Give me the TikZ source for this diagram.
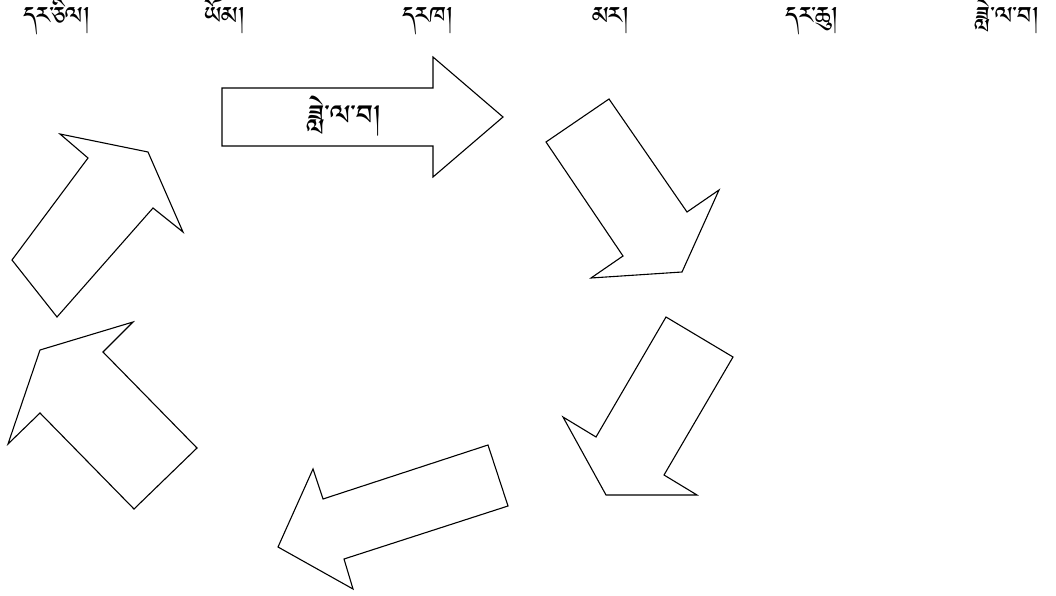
\documentclass[tikz,border=0pt]{standalone}
\usepackage{fontspec}
\IfFontExistsTF{Jomolhari}{\newfontfamily\tib[Script=Tibetan]{Jomolhari}}{%
  \IfFontExistsTF{Tibetan Machine Uni}{\newfontfamily\tib[Script=Tibetan]{Tibetan Machine Uni}}{%
    \newfontfamily\tib{DejaVu Sans}}}
\begin{document}
\begin{tikzpicture}[x=1pt,y=-1pt,
  arr/.style={draw=black,fill=white,line width=1.1pt,line join=miter},
  lbl/.style={font=\tib\fontsize{31}{36}\selectfont,inner sep=0pt,anchor=base},
  inlbl/.style={font=\tib\fontsize{36}{42}\selectfont,inner sep=0pt,anchor=base}]
\useasboundingbox (0,0) rectangle (1056,596);
% top labels
\node[lbl] (l1) at (57,31) {དར་ཅིལ།};
\node[lbl] (l2) at (225,31) {ཡོམ།};
\node[lbl] (l3) at (428,31) {དརཁ།};
\node[lbl] (l4) at (611,31) {མར།};
\node[lbl] (l5) at (812,31) {དར་ཆུ།};
\node[lbl] (l6) at (1007,31) {ཟླེ་ལ་བ།};
% arrow 1 (right)
\draw[arr] (222,88) -- (433,88) -- (433,57) -- (503,117) -- (433,177) -- (433,146) -- (222,146) -- cycle;
\node[inlbl] (t1) at (344,133) {ཟླེ་ལ་བ།};
% arrow 2 (down-right)
\draw[arr] (546,142) -- (609,99) -- (687,212) -- (719,190) -- (682,272) -- (591,278) -- (623,256) -- cycle;
% arrow 3 (down-left)
\draw[arr] (666,317) -- (733,357) -- (664,475) -- (697,495) -- (606,495) -- (563,417) -- (596,437) -- cycle;
% arrow 4 (left)
\draw[arr] (488,445) -- (508,506) -- (344,559) -- (353,589) -- (278,547) -- (313,469) -- (323,499) -- cycle;
% arrow 5 (up-left)
\draw[arr] (133,322) -- (103,352) -- (197,448) -- (134,509) -- (40,413) -- (8,444) -- (40,350) -- cycle;
% arrow 6 (up-right)
\draw[arr] (60,134) -- (148,152) -- (183,232) -- (153,208) -- (57,317) -- (12,260) -- (88,158) -- cycle;
\end{tikzpicture}
\end{document}
